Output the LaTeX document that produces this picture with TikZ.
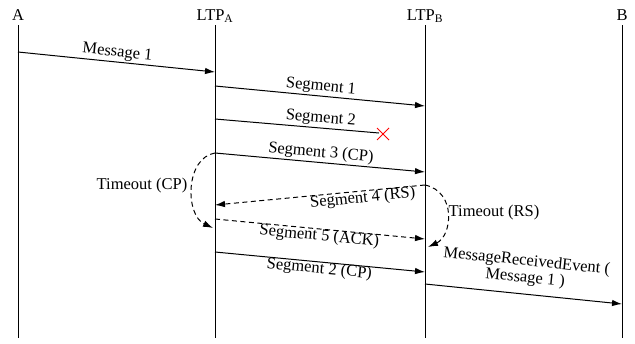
\documentclass[tikz,border=0pt]{standalone}
\usepackage{fontspec}
\setmainfont{Liberation Serif}
\usetikzlibrary{arrows.meta}
\begin{document}
\begin{tikzpicture}[x=1pt,y=-1pt,
  txt/.style={font=\fontsize{16.5}{19}\selectfont, inner sep=1.5pt},
  head/.style={txt, anchor=base},
  life/.style={line width=0.9pt},
  msg/.style={line width=1pt, -{Latex[length=10pt,width=6.5pt]}},
  dmsg/.style={msg, dash pattern=on 5pt off 3.5pt},
  lost/.style={line width=1pt},
  crossmark/.style={draw=red, line width=0.9pt},
  lbl/.style={txt, sloped},
  lblb/.style={txt, sloped, inner sep=0pt, below=-0.5pt}
]
\useasboundingbox (0,0) rectangle (635,343);
% lifeline heads
\node[head] (hA) at (18,20) {A};
\node[head] (hLA) at (215,20) {LTP\textsubscript{A}};
\node[head] (hLB) at (425,20) {LTP\textsubscript{B}};
\node[head] (hB) at (622,20) {B};
% lifeline ends
\coordinate (tA) at (18,25);  \coordinate (bA) at (18,338);
\coordinate (tLA) at (215,25); \coordinate (bLA) at (215,338);
\coordinate (tLB) at (425,25); \coordinate (bLB) at (425,338);
\coordinate (tB) at (622,25);  \coordinate (bB) at (622,338);
\draw[life] (tA) -- (bA);
\draw[life] (tLA) -- (bLA);
\draw[life] (tLB) -- (bLB);
\draw[life] (tB) -- (bB);
% message endpoints
\coordinate (m1s) at (18,52);   \coordinate (m1e) at (215,72);
\coordinate (s1s) at (215,86);  \coordinate (s1e) at (425,106);
\coordinate (s2s) at (215,119); \coordinate (s2e) at (379,133);
\coordinate (s3s) at (215,153); \coordinate (s3e) at (425,172);
\coordinate (s4s) at (425,185); \coordinate (s4e) at (215,205);
\coordinate (s5s) at (215,219); \coordinate (s5e) at (425,239);
\coordinate (s6s) at (215,252); \coordinate (s6e) at (425,272);
\coordinate (mrs) at (425,284); \coordinate (mre) at (622,304);
\coordinate (tcpe) at (213,228);
\coordinate (trse) at (428,247);
% messages
\draw[msg] (m1s) -- node[lbl, above, pos=0.5] {Message 1} (m1e);
\draw[msg] (s1s) -- node[lbl, above, pos=0.5] {Segment 1} (s1e);
\draw[lost] (s2s) -- node[lbl, above, pos=0.64] {Segment 2} (s2e);
\node (x) at (383,134) {};
\draw[crossmark] ([shift={(-6,-6)}]x.center) -- ([shift={(6,6)}]x.center);
\draw[crossmark] ([shift={(-6,6)}]x.center) -- ([shift={(6,-6)}]x.center);
\draw[msg] (s3s) -- node[lbl, above, pos=0.5] {Segment 3 (CP)} (s3e);
\draw[dmsg] (s4s) -- node[lblb, pos=0.3] {Segment 4 (RS)} (s4e);
\draw[dmsg] (s5s) -- node[lblb, pos=0.5] {Segment 5 (ACK)} (s5e);
\draw[msg] (s6s) -- node[lblb, pos=0.5] {Segment 2 (CP)} (s6e);
\draw[msg] (mrs) -- node[lbl, above=6pt, pos=0.5, align=center, font=\fontsize{16.5}{17}\selectfont] {MessageReceivedEvent (\\Message 1 )} (mre);
% timeouts
\draw[dmsg] (s3s) .. controls (185,158) and (185,215) .. (tcpe);
\node[txt, anchor=east] (tcp) at (189,186) {Timeout (CP)};
\draw[dmsg] (s4s) .. controls (457,192) and (452,236) .. (trse);
\node[txt, anchor=west] (trs) at (447,213) {Timeout (RS)};
\end{tikzpicture}
\end{document}
